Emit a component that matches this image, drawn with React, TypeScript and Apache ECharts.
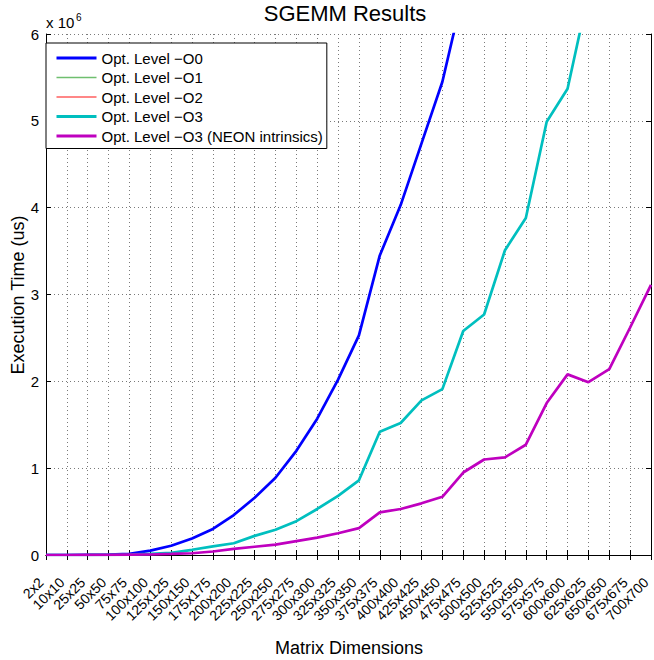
import React, { useEffect, useRef } from "react";
import * as echarts from "echarts";

const categories = [
  "2x2", "10x10", "25x25", "50x50", "75x75", "100x100", "125x125", "150x150",
  "175x175", "200x200", "225x225", "250x250", "275x275", "300x300", "325x325",
  "350x350", "375x375", "400x400", "425x425", "450x450", "475x475", "500x500",
  "525x525", "550x550", "575x575", "600x600", "625x625", "650x650", "675x675", "700x700",
];

// Execution time in units of 10^6 us
const o0Times = [
  0, 0.0002, 0.002, 0.004, 0.012, 0.05, 0.107, 0.19, 0.3, 0.46, 0.66, 0.89, 1.2, 1.57, 2.02,
  2.53, 3.45, 4.03, 4.74, 5.45, 6.48, 7.4, 8.5, 9.6, 10.9, 12.3, 13.8, 15.5, 17.3, 19.2,
];
const o1Times: number[] = [];
const o2Times: number[] = [];
const o3Times = [
  0, 0.0001, 0.001, 0.002, 0.005, 0.012, 0.025, 0.06, 0.1, 0.135, 0.22, 0.29, 0.39, 0.53, 0.68,
  0.86, 1.42, 1.52, 1.78, 1.91, 2.58, 2.77, 3.51, 3.88, 4.99, 5.37, 6.47, 7.3, 8.2, 9.3,
];
const o3NeonTimes = [
  0, 0.0001, 0.0005, 0.001, 0.004, 0.006, 0.012, 0.02, 0.04, 0.07, 0.095, 0.12, 0.16, 0.2, 0.25,
  0.31, 0.49, 0.53, 0.595, 0.67, 0.95, 1.1, 1.125, 1.27, 1.75, 2.08, 1.99, 2.14, 2.62, 3.11,
];

const seriesNames = [
  "Opt. Level \u2212O0",
  "Opt. Level \u2212O1",
  "Opt. Level \u2212O2",
  "Opt. Level \u2212O3",
  "Opt. Level \u2212O3 (NEON intrinsics)",
];
const yTicks = [0, 1, 2, 3, 4, 5, 6];
const xAxisTitle = "Matrix Dimensions";
const yAxisTitle = "Execution Time (us)";

const FONT = "Liberation Sans, Arial, Helvetica, sans-serif";

export default function App() {
  const ref = useRef<HTMLDivElement>(null);
  useEffect(() => {
    if (!ref.current) return;
    const chart = echarts.init(ref.current, undefined, { renderer: "svg" });
    const gridLine = { show: true, lineStyle: { color: "#7a7a7a", width: 1, type: [1, 3] as any } };
    const datasets = [o0Times, o1Times, o2Times, o3Times, o3NeonTimes];
    const colors = ["#0000ff", "#6fbf6f", "#ff5f5f", "#00bfbf", "#bf00bf"];
    const widths = [2.7, 1, 1, 2.7, 2.7];
    chart.setOption({
      animation: false,
      backgroundColor: "#ffffff",
      textStyle: { fontFamily: FONT },
      title: {
        text: "SGEMM Results",
        left: 345,
        top: 2,
        padding: 0,
        textAlign: "center",
        textStyle: { fontFamily: FONT, fontSize: 22, fontWeight: "normal", color: "#000" },
      },
      grid: { left: 46, right: 3, top: 34, bottom: 105, containLabel: false, outerBoundsMode: "none" },
      legend: {
        orient: "vertical",
        left: 46,
        top: 43,
        padding: [7.5, 4, 5, 9],
        itemWidth: 40,
        itemHeight: 14,
        itemGap: 4.5,
        borderColor: "#000",
        borderWidth: 1,
        backgroundColor: "#ffffff",
        itemStyle: { opacity: 0 },
        textStyle: { fontFamily: FONT, fontSize: 15, color: "#000" },
        data: seriesNames.map((name, i) => ({
          name,
          lineStyle: { color: colors[i], width: widths[i] + 0.3 },
        })),
      },
      xAxis: [
        {
          type: "category",
          data: categories,
          boundaryGap: false,
          position: "bottom",
          axisLine: { show: true, lineStyle: { color: "#000", width: 1 } },
          axisTick: { show: true, inside: true, length: 5, lineStyle: { color: "#000" } },
          axisLabel: {
            interval: 0,
            rotate: 45,
            margin: 30,
            fontSize: 14,
            fontFamily: FONT,
            color: "#000",
            verticalAlign: "bottom",
          },
          splitLine: { ...gridLine, interval: 0 },
        },
        {
          type: "category",
          data: categories,
          boundaryGap: false,
          position: "top",
          axisLine: { show: true, lineStyle: { color: "#000", width: 1 } },
          axisTick: { show: true, inside: true, length: 5, interval: 0, lineStyle: { color: "#000" } },
          axisLabel: { show: false },
          splitLine: { show: false },
        },
      ],
      yAxis: [
        {
          type: "value",
          min: yTicks[0],
          max: yTicks[yTicks.length - 1],
          interval: 1,
          position: "left",
          axisLine: { show: true, lineStyle: { color: "#000", width: 1 } },
          axisTick: { show: true, inside: true, length: 5, lineStyle: { color: "#000" } },
          axisLabel: { fontSize: 15, fontFamily: FONT, color: "#000", margin: 7 },
          splitLine: gridLine,
        },
        {
          type: "value",
          min: yTicks[0],
          max: yTicks[yTicks.length - 1],
          interval: 1,
          position: "right",
          axisLine: { show: true, lineStyle: { color: "#000", width: 1 } },
          axisTick: { show: true, inside: true, length: 5, lineStyle: { color: "#000" } },
          axisLabel: { show: false },
          splitLine: { show: false },
        },
      ],
      graphic: [
        {
          type: "text",
          left: 46,
          top: 15,
          style: { text: "x 10", fontFamily: FONT, fontSize: 15, fill: "#000" },
        },
        {
          type: "text",
          left: 76,
          top: 12,
          style: { text: "6", fontFamily: FONT, fontSize: 10, fill: "#000" },
        },
        {
          type: "text",
          x: 349,
          y: 648,
          style: {
            text: xAxisTitle,
            fontFamily: FONT,
            fontSize: 18,
            fill: "#000",
            align: "center",
            verticalAlign: "middle",
          },
        },
        {
          type: "text",
          x: 18,
          y: 295,
          rotation: Math.PI / 2,
          style: {
            text: yAxisTitle,
            fontFamily: FONT,
            fontSize: 18,
            fill: "#000",
            align: "center",
            verticalAlign: "middle",
          },
        },
      ],
      series: seriesNames.map((name, i) => ({
        name,
        type: "line",
        data: datasets[i],
        xAxisIndex: 0,
        yAxisIndex: 0,
        symbol: "none",
        showSymbol: false,
        clip: true,
        color: colors[i],
        lineStyle: { color: colors[i], width: widths[i] },
        z: 2 + i,
      })),
    });
    return () => chart.dispose();
  }, []);
  return <div ref={ref} style={{ width: 654, height: 660, position: "absolute", left: 0, top: 0 }} />;
}
